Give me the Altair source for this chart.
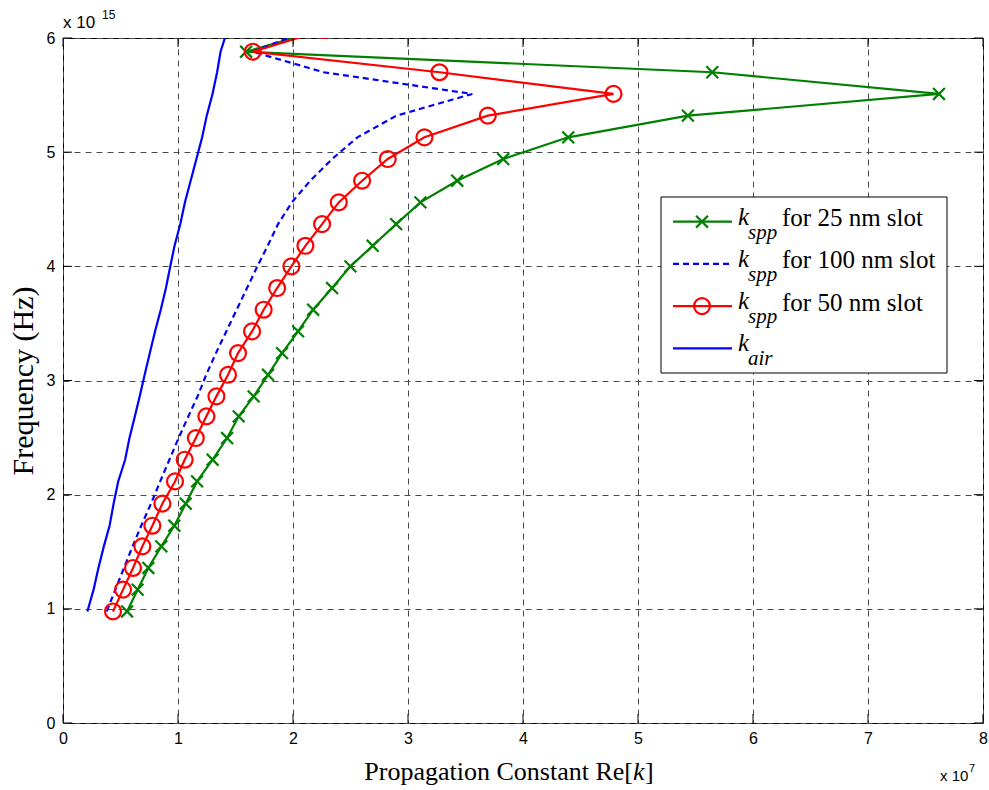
import altair as alt
import pandas as pd

# Frequency samples in units of 1e15 Hz (the last one lies just above the plotted range)
freq = [0.977, 1.168, 1.358, 1.547, 1.728, 1.921, 2.116, 2.306, 2.496, 2.686,
        2.861, 3.050, 3.240, 3.430, 3.620, 3.810, 4.000, 4.180, 4.370, 4.560,
        4.750, 4.940, 5.130, 5.320, 5.510, 5.700, 5.880, 6.070]

# Real part of the propagation constant, in units of 1e7 1/m
k_spp_25 = [0.557, 0.649, 0.742, 0.855, 0.968, 1.067, 1.166, 1.301, 1.427, 1.528,
            1.658, 1.783, 1.905, 2.044, 2.175, 2.340, 2.499, 2.693, 2.897, 3.108,
            3.428, 3.828, 4.393, 5.434, 7.617, 5.646, 1.592, 2.250]
k_spp_100 = [0.380, 0.455, 0.530, 0.605, 0.680, 0.765, 0.845, 0.925, 1.005, 1.090,
             1.170, 1.245, 1.330, 1.420, 1.510, 1.600, 1.690, 1.780, 1.870, 1.990,
             2.150, 2.340, 2.560, 2.900, 3.558, 2.267, 1.650, 2.140]
k_spp_50 = [0.435, 0.522, 0.609, 0.690, 0.777, 0.864, 0.974, 1.058, 1.155, 1.247,
            1.334, 1.435, 1.522, 1.644, 1.745, 1.862, 1.986, 2.108, 2.253, 2.398,
            2.601, 2.824, 3.143, 3.694, 4.787, 3.274, 1.650, 2.270]
k_air = [0.212, 0.266, 0.308, 0.355, 0.405, 0.440, 0.480, 0.540, 0.578, 0.625,
         0.667, 0.710, 0.755, 0.800, 0.850, 0.895, 0.933, 0.970, 1.020, 1.060,
         1.110, 1.160, 1.210, 1.250, 1.300, 1.340, 1.370, 1.430]

x_ticks = [0, 1, 2, 3, 4, 5, 6, 7, 8]
y_ticks = [0, 1, 2, 3, 4, 5, 6]

W, H = 920, 685
GREEN, RED, BLUE = "#008000", "#ff0000", "#0000ff"
X_MARK = "M-1,-1L1,1M1,-1L-1,1"
SERIF, SANS = "Liberation Serif", "Liberation Sans"
LW = 2.2

x_scale = alt.Scale(domain=[0, 8], nice=False, zero=False)
y_scale = alt.Scale(domain=[0, 6], nice=False, zero=False)

# the same axis definitions are shared by every layer so that they merge
x_axis = alt.Axis(values=x_ticks, format="d", grid=True, gridDash=[6, 5],
                  gridColor="#4a4a4a", gridWidth=1, gridOpacity=1, tickSize=0,
                  domain=False, labelFont=SANS, labelFontSize=16, labelColor="black",
                  labelPadding=7, labelFlush=False, title=None)
y_axis = alt.Axis(values=y_ticks, format="d", grid=True, gridDash=[6, 5],
                  gridColor="#4a4a4a", gridWidth=1, gridOpacity=1, tickSize=0,
                  domain=False, labelFont=SANS, labelFontSize=16, labelColor="black",
                  labelPadding=8, labelFlush=False, title="Frequency (Hz)",
                  titleFont=SERIF, titleFontSize=30, titleFontWeight="normal",
                  titleColor="black", titlePadding=8)

X = lambda field: alt.X(field, scale=x_scale, axis=x_axis)
Y = lambda field: alt.Y(field, scale=y_scale, axis=y_axis)


def frame(vals):
    return pd.DataFrame({"f": freq, "k": vals, "i": list(range(len(freq)))})


def curve(vals, color, dash=None):
    kw = dict(clip=True, color=color, strokeWidth=LW)
    if dash:
        kw["strokeDash"] = dash
    return alt.Chart(frame(vals)).mark_line(**kw).encode(
        x=X("k:Q"), y=Y("f:Q"), order="i:Q")


def markers(vals, color, shape, size):
    return alt.Chart(frame(vals)).mark_point(
        clip=True, shape=shape, size=size, filled=False, color=color,
        strokeWidth=LW, opacity=1,
    ).encode(x=X("k:Q"), y=Y("f:Q"))


one = pd.DataFrame({"a": [0]})

# inward tick marks on all four sides of the box
xt = pd.DataFrame({"k": x_ticks})
yt = pd.DataFrame({"f": y_ticks})
TL = 9
ticks = [
    alt.Chart(xt).mark_rule(color="black", strokeWidth=1).encode(
        x=X("k:Q"), y=alt.value(H), y2=alt.value(H - TL)),
    alt.Chart(xt).mark_rule(color="black", strokeWidth=1).encode(
        x=X("k:Q"), y=alt.value(0), y2=alt.value(TL)),
    alt.Chart(yt).mark_rule(color="black", strokeWidth=1).encode(
        y=Y("f:Q"), x=alt.value(0), x2=alt.value(TL)),
    alt.Chart(yt).mark_rule(color="black", strokeWidth=1).encode(
        y=Y("f:Q"), x=alt.value(W), x2=alt.value(W - TL)),
]


def text(s, x, y, size, font=SERIF, style="normal", align="left"):
    return alt.Chart(one).mark_text(
        text=s, font=font, fontSize=size, fontStyle=style, align=align,
        baseline="alphabetic", color="black",
    ).encode(x=alt.value(x), y=alt.value(y))


# legend box
LX0, LX1, LY0, LY1 = 598, 884, 159, 335
legend = [
    alt.Chart(one).mark_rect(fill="white", stroke="black", strokeWidth=1).encode(
        x=alt.value(LX0), x2=alt.value(LX1), y=alt.value(LY0), y2=alt.value(LY1)),
]
entries = [
    (GREEN, None, "x", "spp", "for 25 nm slot"),
    (BLUE, [6, 4], None, "spp", "for 100 nm slot"),
    (RED, None, "o", "spp", "for 50 nm slot"),
    (BLUE, None, None, "air", ""),
]
for n, (color, dash, mk, sub, rest) in enumerate(entries):
    ry = 183.7 + n * 42.2
    kw = dict(color=color, strokeWidth=LW)
    if dash:
        kw["strokeDash"] = dash
    legend.append(alt.Chart(one).mark_rule(**kw).encode(
        x=alt.value(610), x2=alt.value(669), y=alt.value(ry)))
    if mk == "x":
        legend.append(alt.Chart(one).mark_point(
            shape=X_MARK, size=140, filled=False, color=color, strokeWidth=LW, opacity=1
        ).encode(x=alt.value(639), y=alt.value(ry)))
    elif mk == "o":
        legend.append(alt.Chart(one).mark_point(
            shape="circle", size=254, filled=False, color=color, strokeWidth=LW, opacity=1
        ).encode(x=alt.value(639), y=alt.value(ry)))
    legend.append(text("k", 675, ry + 3, 25, style="italic"))
    legend.append(text(sub, 685, ry + 17, 21, style="italic"))
    if rest:
        legend.append(text(rest, 719, ry + 4.5, 25))

# axis title with italic k, and the exponent notes
extras = [
    text("Propagation Constant Re[", 570, 742, 26, align="right"),
    text("k", 570, 742, 26, style="italic"),
    text("]", 582, 742, 26),
    text("x 10", 0, -10, 17, font=SANS),
    text("15", 39, -19, 12, font=SANS),
    text("x 10", 877, 743, 15, font=SANS),
    text("7", 906, 734, 11, font=SANS),
]

layers = [
    curve(k_spp_25, GREEN),
    markers(k_spp_25, GREEN, X_MARK, 140),
    curve(k_spp_100, BLUE, dash=[6, 4]),
    curve(k_spp_50, RED),
    markers(k_spp_50, RED, "circle", 254),
    curve(k_air, BLUE),
] + ticks + legend + extras

chart = alt.layer(*layers).properties(
    width=W, height=H, autosize="none",
    padding={"left": 63, "top": 38, "right": 6, "bottom": 67},
    background="white",
).configure_view(stroke="black", strokeWidth=1)

chart.save("out.html", embed_options={"renderer": "svg", "actions": False})
